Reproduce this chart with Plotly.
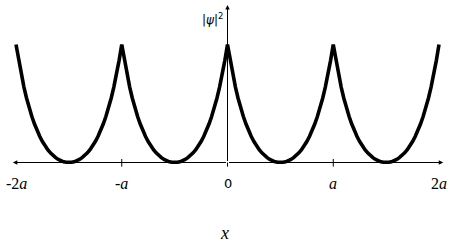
import numpy as np
import plotly.graph_objects as go

# lattice points (in units of a) and tick labels
tick_pos = [-2, -1, 0, 1, 2]
tick_text = ["-2<i>a</i>", "-<i>a</i>", "0", "<i>a</i>", "2<i>a</i>"]

half_cell_profile = [1.000, 0.866, 0.745, 0.639, 0.545, 0.462, 0.390, 0.326, 0.269, 0.220,
                     0.178, 0.141, 0.109, 0.082, 0.059, 0.041, 0.026, 0.014, 0.006, 0.002, 0.000]
cell_starts = [-2, -1, 0, 1]

# build one cell (cusp -> minimum -> cusp) and repeat over the cells
cell_y = half_cell_profile + half_cell_profile[-2::-1]
n = len(cell_y)
xs, ys = [], []
for i, s in enumerate(cell_starts):
    cx = list(np.linspace(s, s + 1, n))
    cy = list(cell_y)
    if i > 0:
        cx, cy = cx[1:], cy[1:]
    xs += cx
    ys += cy

fig = go.Figure()
fig.add_trace(go.Scatter(x=xs, y=ys, mode="lines",
                         line=dict(color="black", width=3.6, shape="linear"),
                         hoverinfo="skip", showlegend=False))

xr = [-227.5 / 105.75, (450 - 227.5) / 105.75]
yr = [-89.5 / 118, 162.5 / 118]

shapes = []
for t in [-1, 1]:
    shapes.append(dict(type="line", x0=t, x1=t, y0=-0.035, y1=0.03,
                       line=dict(color="black", width=1)))
shapes.append(dict(type="line", x0=0, x1=0, y0=-0.035, y1=0,
                   line=dict(color="black", width=1)))

SERIF = "Liberation Serif, Times New Roman, serif"
ann = []
# axes with arrows
for (x1, y1) in [(-2.03, 0), (2.04, 0), (0, 1.335)]:
    ann.append(dict(x=x1, y=y1, ax=0, ay=0, xref="x", yref="y", axref="x", ayref="y",
                    showarrow=True, arrowhead=2, arrowsize=0.9, arrowwidth=1,
                    arrowcolor="black", text=""))
for p, t in zip(tick_pos, tick_text):
    fam = "DejaVu Sans" if t == "0" else SERIF
    size = 13 if t == "0" else 16
    ann.append(dict(x=p, y=-0.182, xref="x", yref="y", text=t, showarrow=False,
                    font=dict(family=fam, size=size, color="#000000")))
ann.append(dict(x=-0.03, y=-0.6, xref="x", yref="y", text="<i>x</i>", showarrow=False,
                font=dict(family=SERIF, size=18, color="#000000")))
ann.append(dict(x=-0.02, y=1.215, xref="x", yref="y", xanchor="right",
                text="|<i>ψ</i>|<sup>2</sup>", showarrow=False,
                font=dict(family="DejaVu Sans", size=12, color="#000000")))

fig.update_layout(
    width=450, height=252,
    margin=dict(l=0, r=0, t=0, b=0),
    paper_bgcolor="white", plot_bgcolor="white",
    font=dict(color="#000000"),
    xaxis=dict(range=xr, visible=False, fixedrange=True),
    yaxis=dict(range=yr, visible=False, fixedrange=True),
    shapes=shapes, annotations=ann,
)
fig.write_html("out.html")
